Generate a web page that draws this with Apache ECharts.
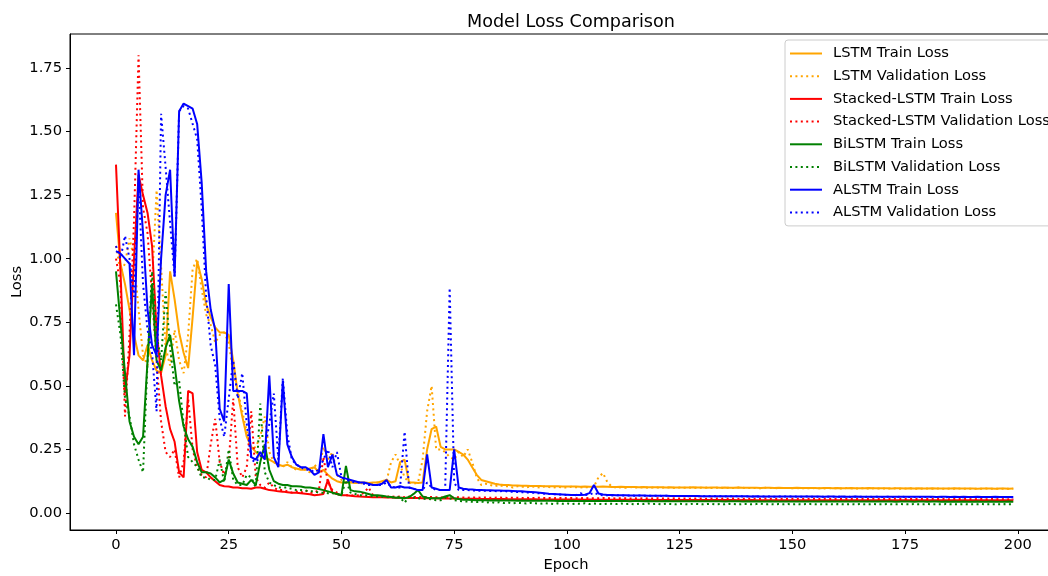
<!DOCTYPE html>
<html>
<head>
<meta charset="utf-8">
<script src="https://cdn.jsdelivr.net/npm/echarts@6/dist/echarts.min.js"></script>
<style>
  html, body { margin: 0; padding: 0; background: #fff; overflow: hidden; }
  #chart { width: 1100px; height: 576px; }
</style>
</head>
<body>
<div id="chart"></div>
<script>
// loss per epoch (0..199)
const lstmTrain = [
  1.18, 0.98, 0.90, 0.80, 0.70, 0.62, 0.60, 0.66, 0.60, 0.56,
  0.55, 0.62, 0.95, 0.84, 0.71, 0.63, 0.57, 0.77, 0.99, 0.92,
  0.82, 0.77, 0.73, 0.71, 0.71, 0.70, 0.60, 0.47, 0.38, 0.30,
  0.26, 0.24, 0.225, 0.215, 0.21, 0.20, 0.19, 0.185, 0.19, 0.18,
  0.175, 0.17, 0.17, 0.175, 0.18, 0.16, 0.17, 0.15, 0.135, 0.125,
  0.12, 0.12, 0.12, 0.118, 0.12, 0.12, 0.118, 0.12, 0.12, 0.125,
  0.13, 0.12, 0.125, 0.20, 0.21, 0.12, 0.12, 0.118, 0.12, 0.25,
  0.33, 0.34, 0.26, 0.25, 0.25, 0.25, 0.24, 0.23, 0.21, 0.18,
  0.15, 0.13, 0.125, 0.12, 0.115, 0.112, 0.11, 0.11, 0.108, 0.108,
  0.107, 0.107, 0.106, 0.106, 0.106, 0.105, 0.105, 0.105, 0.105, 0.104,
  0.104, 0.104, 0.104, 0.103, 0.104, 0.103, 0.103, 0.103, 0.104, 0.103,
  0.102, 0.102, 0.103, 0.102, 0.102, 0.102, 0.101, 0.102, 0.101, 0.101,
  0.101, 0.101, 0.100, 0.101, 0.100, 0.100, 0.100, 0.100, 0.101, 0.100,
  0.100, 0.099, 0.100, 0.100, 0.099, 0.100, 0.099, 0.099, 0.100, 0.099,
  0.099, 0.099, 0.099, 0.098, 0.099, 0.099, 0.098, 0.099, 0.098, 0.098,
  0.098, 0.099, 0.098, 0.098, 0.098, 0.098, 0.097, 0.098, 0.098, 0.097,
  0.098, 0.097, 0.097, 0.098, 0.097, 0.097, 0.097, 0.098, 0.097, 0.097,
  0.097, 0.097, 0.096, 0.097, 0.097, 0.096, 0.097, 0.096, 0.097, 0.096,
  0.096, 0.097, 0.096, 0.096, 0.096, 0.096, 0.097, 0.096, 0.096, 0.096,
  0.096, 0.095, 0.096, 0.096, 0.096, 0.095, 0.096, 0.096, 0.095, 0.096
];
const lstmVal = [
  1.05, 0.95, 0.98, 1.08, 1.00, 0.80, 0.62, 0.58, 0.90, 1.27,
  0.97, 0.65, 0.58, 0.72, 0.60, 0.55, 0.70, 0.96, 1.00, 0.88,
  0.78, 0.74, 0.67, 0.70, 0.71, 0.67, 0.55, 0.48, 0.40, 0.32,
  0.25, 0.26, 0.30, 0.38, 0.24, 0.20, 0.19, 0.18, 0.20, 0.18,
  0.17, 0.18, 0.17, 0.16, 0.19, 0.17, 0.26, 0.21, 0.24, 0.15,
  0.13, 0.12, 0.125, 0.12, 0.115, 0.12, 0.118, 0.115, 0.12, 0.12,
  0.125, 0.20, 0.23, 0.19, 0.14, 0.12, 0.115, 0.12, 0.21, 0.40,
  0.50, 0.25, 0.25, 0.24, 0.22, 0.21, 0.24, 0.22, 0.25, 0.20,
  0.14, 0.11, 0.115, 0.11, 0.105, 0.11, 0.105, 0.105, 0.10, 0.105,
  0.104, 0.10, 0.105, 0.103, 0.10, 0.104, 0.102, 0.10, 0.103, 0.101,
  0.10, 0.103, 0.101, 0.10, 0.102, 0.10, 0.104, 0.14, 0.157, 0.12,
  0.103, 0.10, 0.101, 0.099, 0.102, 0.10, 0.10, 0.101, 0.099, 0.10,
  0.10, 0.099, 0.101, 0.10, 0.098, 0.10, 0.099, 0.10, 0.098, 0.10,
  0.099, 0.10, 0.098, 0.099, 0.10, 0.098, 0.099, 0.098, 0.10, 0.099,
  0.098, 0.099, 0.098, 0.097, 0.099, 0.098, 0.098, 0.097, 0.099, 0.098,
  0.097, 0.098, 0.097, 0.098, 0.097, 0.098, 0.097, 0.096, 0.098, 0.097,
  0.097, 0.096, 0.098, 0.097, 0.096, 0.097, 0.097, 0.096, 0.097, 0.096,
  0.096, 0.097, 0.096, 0.097, 0.095, 0.096, 0.097, 0.096, 0.095, 0.096,
  0.096, 0.095, 0.096, 0.096, 0.095, 0.096, 0.095, 0.096, 0.095, 0.095,
  0.096, 0.095, 0.095, 0.096, 0.095, 0.095, 0.096, 0.095, 0.095, 0.095
];
const stackedTrain = [
  1.37, 0.95, 0.47, 0.62, 1.00, 1.33, 1.25, 1.18, 1.05, 0.72,
  0.54, 0.42, 0.33, 0.28, 0.16, 0.14, 0.48, 0.47, 0.24, 0.17,
  0.16, 0.14, 0.125, 0.11, 0.105, 0.104, 0.10, 0.10, 0.097, 0.097,
  0.095, 0.10, 0.10, 0.095, 0.09, 0.088, 0.085, 0.084, 0.082, 0.08,
  0.08, 0.078, 0.076, 0.074, 0.07, 0.072, 0.075, 0.13, 0.08, 0.075,
  0.07, 0.07, 0.068, 0.066, 0.065, 0.064, 0.063, 0.062, 0.062, 0.062,
  0.061, 0.061, 0.06, 0.06, 0.06, 0.059, 0.059, 0.059, 0.058, 0.058,
  0.058, 0.058, 0.057, 0.057, 0.057, 0.057, 0.056, 0.056, 0.056, 0.056,
  0.056, 0.055, 0.055, 0.055, 0.055, 0.055, 0.055, 0.054, 0.054, 0.054,
  0.054, 0.054, 0.054, 0.054, 0.053, 0.053, 0.053, 0.053, 0.053, 0.053,
  0.053, 0.053, 0.053, 0.053, 0.052, 0.053, 0.052, 0.052, 0.052, 0.052,
  0.052, 0.052, 0.052, 0.052, 0.052, 0.052, 0.052, 0.051, 0.052, 0.051,
  0.051, 0.051, 0.051, 0.051, 0.051, 0.051, 0.051, 0.051, 0.051, 0.051,
  0.051, 0.051, 0.051, 0.051, 0.051, 0.051, 0.051, 0.051, 0.050, 0.051,
  0.050, 0.051, 0.050, 0.050, 0.050, 0.050, 0.050, 0.050, 0.050, 0.050,
  0.050, 0.050, 0.050, 0.050, 0.050, 0.050, 0.050, 0.050, 0.050, 0.050,
  0.050, 0.050, 0.050, 0.050, 0.050, 0.050, 0.050, 0.050, 0.050, 0.050,
  0.050, 0.050, 0.050, 0.050, 0.050, 0.050, 0.050, 0.050, 0.050, 0.050,
  0.050, 0.050, 0.050, 0.050, 0.050, 0.050, 0.050, 0.050, 0.050, 0.050,
  0.050, 0.050, 0.050, 0.050, 0.050, 0.050, 0.050, 0.050, 0.050, 0.050
];
const stackedVal = [
  1.00, 0.90, 0.38, 0.70, 1.15, 1.80, 1.20, 1.10, 0.85, 0.60,
  0.36, 0.24, 0.22, 0.25, 0.14, 0.20, 0.45, 0.25, 0.18, 0.15,
  0.14, 0.27, 0.37, 0.20, 0.15, 0.20, 0.45, 0.18, 0.14, 0.18,
  0.40, 0.14, 0.11, 0.10, 0.12, 0.10, 0.09, 0.09, 0.085, 0.08,
  0.085, 0.08, 0.09, 0.08, 0.08, 0.09, 0.22, 0.12, 0.09, 0.08,
  0.075, 0.07, 0.07, 0.068, 0.07, 0.08, 0.10, 0.07, 0.065, 0.065,
  0.064, 0.066, 0.063, 0.065, 0.062, 0.064, 0.063, 0.062, 0.064, 0.062,
  0.063, 0.062, 0.061, 0.063, 0.062, 0.061, 0.062, 0.061, 0.060, 0.061,
  0.061, 0.060, 0.061, 0.060, 0.060, 0.061, 0.060, 0.059, 0.060, 0.060,
  0.059, 0.060, 0.059, 0.059, 0.060, 0.059, 0.059, 0.058, 0.059, 0.059,
  0.058, 0.059, 0.058, 0.058, 0.059, 0.058, 0.058, 0.058, 0.059, 0.058,
  0.058, 0.057, 0.058, 0.058, 0.057, 0.058, 0.057, 0.058, 0.057, 0.057,
  0.058, 0.057, 0.057, 0.057, 0.058, 0.057, 0.057, 0.056, 0.057, 0.057,
  0.057, 0.056, 0.057, 0.057, 0.056, 0.057, 0.056, 0.057, 0.056, 0.056,
  0.057, 0.056, 0.056, 0.056, 0.057, 0.056, 0.056, 0.056, 0.056, 0.056,
  0.056, 0.056, 0.055, 0.056, 0.056, 0.056, 0.055, 0.056, 0.056, 0.055,
  0.056, 0.055, 0.056, 0.055, 0.055, 0.056, 0.055, 0.055, 0.056, 0.055,
  0.055, 0.055, 0.055, 0.056, 0.055, 0.055, 0.055, 0.055, 0.055, 0.055,
  0.055, 0.055, 0.055, 0.055, 0.055, 0.054, 0.055, 0.055, 0.055, 0.055,
  0.054, 0.055, 0.055, 0.054, 0.055, 0.055, 0.054, 0.055, 0.054, 0.055
];
const bilstmTrain = [
  0.95, 0.75, 0.55, 0.36, 0.30, 0.27, 0.30, 0.60, 0.90, 0.60,
  0.56, 0.65, 0.70, 0.58, 0.44, 0.34, 0.29, 0.26, 0.20, 0.16,
  0.16, 0.155, 0.14, 0.12, 0.13, 0.21, 0.155, 0.12, 0.115, 0.11,
  0.13, 0.11, 0.20, 0.27, 0.17, 0.125, 0.115, 0.11, 0.11, 0.105,
  0.105, 0.104, 0.10, 0.10, 0.097, 0.094, 0.09, 0.085, 0.08, 0.075,
  0.07, 0.185, 0.09, 0.085, 0.084, 0.08, 0.075, 0.07, 0.07, 0.068,
  0.065, 0.063, 0.06, 0.06, 0.058, 0.062, 0.075, 0.09, 0.065, 0.06,
  0.058, 0.058, 0.058, 0.065, 0.07, 0.058, 0.055, 0.052, 0.052, 0.051,
  0.050, 0.050, 0.050, 0.049, 0.050, 0.049, 0.049, 0.049, 0.049, 0.048,
  0.049, 0.048, 0.048, 0.048, 0.048, 0.048, 0.048, 0.048, 0.047, 0.048,
  0.047, 0.048, 0.047, 0.047, 0.047, 0.047, 0.047, 0.047, 0.047, 0.047,
  0.047, 0.047, 0.047, 0.047, 0.046, 0.047, 0.047, 0.046, 0.047, 0.046,
  0.046, 0.046, 0.047, 0.046, 0.046, 0.046, 0.046, 0.046, 0.046, 0.046,
  0.046, 0.046, 0.046, 0.046, 0.046, 0.045, 0.046, 0.046, 0.046, 0.045,
  0.046, 0.045, 0.046, 0.045, 0.045, 0.046, 0.045, 0.045, 0.045, 0.045,
  0.045, 0.045, 0.045, 0.045, 0.045, 0.045, 0.045, 0.045, 0.045, 0.045,
  0.045, 0.045, 0.045, 0.045, 0.045, 0.045, 0.045, 0.045, 0.045, 0.045,
  0.045, 0.045, 0.045, 0.044, 0.045, 0.045, 0.045, 0.044, 0.045, 0.045,
  0.044, 0.045, 0.045, 0.044, 0.045, 0.044, 0.045, 0.044, 0.045, 0.044,
  0.044, 0.045, 0.044, 0.044, 0.045, 0.044, 0.044, 0.044, 0.045, 0.044
];
const bilstmVal = [
  0.82, 0.70, 0.45, 0.38, 0.27, 0.21, 0.16, 0.60, 0.95, 0.70,
  0.60, 0.87, 0.65, 0.50, 0.52, 0.35, 0.22, 0.20, 0.18, 0.14,
  0.14, 0.13, 0.13, 0.21, 0.12, 0.25, 0.13, 0.11, 0.11, 0.15,
  0.14, 0.10, 0.43, 0.16, 0.12, 0.11, 0.10, 0.10, 0.10, 0.095,
  0.09, 0.09, 0.088, 0.085, 0.085, 0.08, 0.08, 0.078, 0.078, 0.075,
  0.07, 0.13, 0.08, 0.075, 0.07, 0.07, 0.068, 0.066, 0.065, 0.064,
  0.063, 0.06, 0.064, 0.062, 0.04, 0.065, 0.06, 0.058, 0.056, 0.055,
  0.054, 0.05, 0.05, 0.06, 0.058, 0.05, 0.048, 0.046, 0.045, 0.044,
  0.043, 0.045, 0.041, 0.043, 0.040, 0.042, 0.039, 0.041, 0.038, 0.040,
  0.039, 0.037, 0.040, 0.038, 0.036, 0.039, 0.037, 0.035, 0.038, 0.036,
  0.038, 0.035, 0.037, 0.036, 0.038, 0.035, 0.037, 0.036, 0.035, 0.037,
  0.036, 0.035, 0.037, 0.035, 0.036, 0.034, 0.036, 0.035, 0.037, 0.035,
  0.036, 0.034, 0.036, 0.035, 0.034, 0.036, 0.035, 0.034, 0.036, 0.035,
  0.034, 0.035, 0.036, 0.034, 0.035, 0.034, 0.036, 0.035, 0.034, 0.035,
  0.035, 0.034, 0.035, 0.036, 0.034, 0.035, 0.034, 0.035, 0.034, 0.035,
  0.034, 0.035, 0.034, 0.035, 0.035, 0.034, 0.035, 0.034, 0.035, 0.034,
  0.035, 0.034, 0.034, 0.035, 0.034, 0.035, 0.034, 0.034, 0.035, 0.034,
  0.034, 0.035, 0.034, 0.034, 0.035, 0.034, 0.034, 0.035, 0.034, 0.034,
  0.035, 0.034, 0.034, 0.034, 0.035, 0.034, 0.034, 0.034, 0.035, 0.034,
  0.034, 0.034, 0.035, 0.034, 0.034, 0.034, 0.034, 0.035, 0.034, 0.034
];
const alstmTrain = [
  1.03, 1.02, 1.00, 0.98, 0.62, 1.35, 1.10, 0.80, 0.66, 0.62,
  1.00, 1.25, 1.35, 0.93, 1.58, 1.61, 1.60, 1.59, 1.53, 1.30,
  0.95, 0.80, 0.72, 0.41, 0.36, 0.90, 0.48, 0.48, 0.48, 0.47,
  0.22, 0.21, 0.24, 0.21, 0.54, 0.22, 0.18, 0.52, 0.27, 0.22,
  0.19, 0.18, 0.18, 0.17, 0.15, 0.16, 0.31, 0.18, 0.23, 0.15,
  0.14, 0.135, 0.13, 0.125, 0.12, 0.12, 0.115, 0.11, 0.11, 0.115,
  0.13, 0.10, 0.10, 0.105, 0.10, 0.10, 0.095, 0.09, 0.09, 0.23,
  0.10, 0.095, 0.09, 0.09, 0.09, 0.25, 0.10, 0.095, 0.093, 0.092,
  0.09, 0.09, 0.089, 0.089, 0.088, 0.088, 0.087, 0.087, 0.086, 0.085,
  0.085, 0.084, 0.083, 0.082, 0.080, 0.078, 0.076, 0.075, 0.074, 0.073,
  0.072, 0.071, 0.071, 0.071, 0.072, 0.078, 0.11, 0.077, 0.073, 0.071,
  0.071, 0.070, 0.070, 0.070, 0.069, 0.069, 0.069, 0.069, 0.068, 0.068,
  0.068, 0.068, 0.068, 0.067, 0.067, 0.067, 0.067, 0.067, 0.067, 0.067,
  0.066, 0.066, 0.066, 0.066, 0.066, 0.066, 0.066, 0.066, 0.066, 0.066,
  0.066, 0.065, 0.066, 0.065, 0.065, 0.065, 0.065, 0.065, 0.065, 0.065,
  0.065, 0.065, 0.065, 0.065, 0.065, 0.065, 0.065, 0.064, 0.065, 0.065,
  0.064, 0.065, 0.064, 0.064, 0.065, 0.064, 0.064, 0.064, 0.064, 0.064,
  0.064, 0.064, 0.064, 0.064, 0.064, 0.064, 0.064, 0.064, 0.064, 0.064,
  0.064, 0.064, 0.063, 0.064, 0.064, 0.063, 0.064, 0.063, 0.064, 0.063,
  0.063, 0.064, 0.063, 0.063, 0.063, 0.064, 0.063, 0.063, 0.063, 0.063
];
const alstmVal = [
  1.05, 1.00, 1.09, 1.00, 0.85, 1.30, 0.90, 0.72, 0.63, 0.40,
  1.57, 1.36, 1.14, 0.93, 1.58, 1.60, 1.59, 1.53, 1.47, 1.20,
  0.85, 0.66, 0.58, 0.37, 0.30, 0.45, 0.60, 0.45, 0.55, 0.35,
  0.21, 0.20, 0.22, 0.25, 0.35, 0.47, 0.21, 0.53, 0.31, 0.21,
  0.19, 0.18, 0.17, 0.17, 0.16, 0.17, 0.21, 0.25, 0.18, 0.24,
  0.14, 0.13, 0.125, 0.12, 0.12, 0.115, 0.11, 0.11, 0.11, 0.11,
  0.12, 0.105, 0.10, 0.10, 0.32, 0.10, 0.095, 0.09, 0.09, 0.12,
  0.10, 0.09, 0.09, 0.09, 0.885, 0.12, 0.09, 0.09, 0.09, 0.088,
  0.088, 0.087, 0.087, 0.086, 0.086, 0.085, 0.088, 0.084, 0.084, 0.083,
  0.082, 0.081, 0.080, 0.079, 0.077, 0.076, 0.075, 0.074, 0.073, 0.072,
  0.071, 0.071, 0.070, 0.078, 0.071, 0.072, 0.080, 0.072, 0.070, 0.070,
  0.069, 0.070, 0.069, 0.069, 0.069, 0.068, 0.069, 0.068, 0.068, 0.068,
  0.068, 0.067, 0.068, 0.067, 0.067, 0.067, 0.067, 0.066, 0.067, 0.066,
  0.066, 0.066, 0.066, 0.066, 0.066, 0.065, 0.066, 0.065, 0.066, 0.065,
  0.065, 0.065, 0.065, 0.065, 0.065, 0.065, 0.064, 0.065, 0.065, 0.064,
  0.065, 0.064, 0.064, 0.065, 0.064, 0.064, 0.064, 0.064, 0.064, 0.064,
  0.064, 0.064, 0.064, 0.063, 0.064, 0.064, 0.063, 0.064, 0.063, 0.064,
  0.063, 0.064, 0.063, 0.063, 0.064, 0.063, 0.063, 0.063, 0.063, 0.063,
  0.063, 0.063, 0.063, 0.063, 0.062, 0.063, 0.063, 0.063, 0.062, 0.063,
  0.063, 0.062, 0.063, 0.062, 0.063, 0.062, 0.063, 0.062, 0.062, 0.062
];

const seriesNames = [
  'LSTM Train Loss', 'LSTM Validation Loss',
  'Stacked-LSTM Train Loss', 'Stacked-LSTM Validation Loss',
  'BiLSTM Train Loss', 'BiLSTM Validation Loss',
  'ALSTM Train Loss', 'ALSTM Validation Loss'
];
const seriesValues = [lstmTrain, lstmVal, stackedTrain, stackedVal, bilstmTrain, bilstmVal, alstmTrain, alstmVal];
const seriesColors = ['#ffa500', '#ffa500', '#ff0000', '#ff0000', '#008000', '#008000', '#0000ff', '#0000ff'];
const xTicks = [0, 25, 50, 75, 100, 125, 150, 175, 200];
const yTicks = [0, 0.25, 0.5, 0.75, 1.0, 1.25, 1.5, 1.75];

const font = 'DejaVu Sans';
const fs = 14.7;
const myChart = echarts.init(document.getElementById('chart'));

const series = seriesValues.map((vals, k) => ({
  name: seriesNames[k],
  type: 'line',
  symbol: 'none',
  showSymbol: false,
  data: vals.map((v, i) => [i, v]),
  lineStyle: {
    color: seriesColors[k],
    width: 2,
    type: k % 2 === 1 ? [2, 3.4] : 'solid',
    cap: 'butt'
  },
  itemStyle: { color: seriesColors[k] }
}));

const option = {
  animation: false,
  backgroundColor: '#fff',
  title: {
    text: 'Model Loss Comparison',
    left: 462,
    top: 8,
    textStyle: { fontFamily: font, fontSize: 17.6, fontWeight: 'normal', color: '#000' }
  },
  legend: {
    orient: 'vertical',
    left: 785,
    top: 40,
    padding: [6, 8, 6, 4],
    itemWidth: 32,
    itemHeight: 14,
    itemGap: 7.7,
    backgroundColor: 'rgba(255,255,255,0.8)',
    borderColor: '#cccccc',
    borderWidth: 1,
    borderRadius: 3,
    // hide the marker circle, keep only the line sample
    itemStyle: { opacity: 0 },
    textStyle: { fontFamily: font, fontSize: fs, color: '#000', padding: [0, 0, 0, 6] },
    data: seriesNames
  },
  grid: {
    left: 70, top: 34, width: 992, height: 496,
    outerBoundsMode: 'none',
    containLabel: false,
    show: true, borderColor: '#000', borderWidth: 1, backgroundColor: 'transparent'
  },
  xAxis: {
    type: 'value',
    min: -10.2,
    max: 209.8,
    name: 'Epoch',
    nameLocation: 'middle',
    nameGap: 28,
    nameMoveOverlap: false,
    nameTextStyle: { fontFamily: font, fontSize: fs, color: '#000' },
    axisLine: { show: true, onZero: false, lineStyle: { color: '#000', width: 1 } },
    axisTick: { show: true, length: 4, lineStyle: { color: '#000' }, customValues: xTicks },
    axisLabel: { customValues: xTicks, margin: 8, fontFamily: font, fontSize: fs, color: '#000' },
    splitLine: { show: false }
  },
  yAxis: {
    type: 'value',
    min: -0.0669,
    max: 1.8836,
    name: 'Loss',
    nameLocation: 'middle',
    nameGap: 45,
    nameMoveOverlap: false,
    nameTextStyle: { fontFamily: font, fontSize: fs, color: '#000' },
    axisLine: { show: true, onZero: false, lineStyle: { color: '#000', width: 1 } },
    axisTick: { show: true, length: 4, lineStyle: { color: '#000' }, customValues: yTicks },
    axisLabel: {
      customValues: yTicks, margin: 8, fontFamily: font, fontSize: fs, color: '#000',
      formatter: v => v.toFixed(2)
    },
    splitLine: { show: false }
  },
  series: series
};
myChart.setOption(option);
</script>
</body>
</html>
